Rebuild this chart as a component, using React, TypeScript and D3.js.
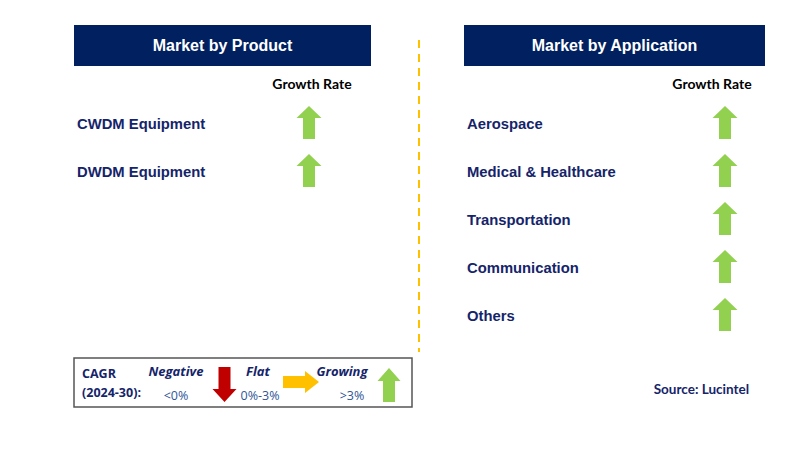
import React from "react";
import * as d3 from "d3";

const productCategories = ["CWDM Equipment", "DWDM Equipment"];
const productGrowth = ["up", "up"];
const applicationCategories = ["Aerospace", "Medical & Healthcare", "Transportation", "Communication", "Others"];
const applicationGrowth = ["up", "up", "up", "up", "up"];
const legendItems = [
  { label: "Negative", range: "<0%", dir: "down" },
  { label: "Flat", range: "0%-3%", dir: "right" },
  { label: "Growing", range: ">3%", dir: "up" },
];

const NAVY = "#002060";
const TEXT = "#15246a";
const GREEN = "#92D050";
const RED = "#C00000";
const ORANGE = "#FFC000";

function upArrow(cx: number, top: number, w: number, h: number, headH: number, shaftW: number) {
  const p = d3.path();
  p.moveTo(cx, top);
  p.lineTo(cx + w / 2, top + headH);
  p.lineTo(cx + shaftW / 2, top + headH);
  p.lineTo(cx + shaftW / 2, top + h);
  p.lineTo(cx - shaftW / 2, top + h);
  p.lineTo(cx - shaftW / 2, top + headH);
  p.lineTo(cx - w / 2, top + headH);
  p.closePath();
  return p.toString();
}
function downArrow(cx: number, top: number, w: number, h: number, headH: number, shaftW: number) {
  const p = d3.path();
  p.moveTo(cx, top + h);
  p.lineTo(cx + w / 2, top + h - headH);
  p.lineTo(cx + shaftW / 2, top + h - headH);
  p.lineTo(cx + shaftW / 2, top);
  p.lineTo(cx - shaftW / 2, top);
  p.lineTo(cx - shaftW / 2, top + h - headH);
  p.lineTo(cx - w / 2, top + h - headH);
  p.closePath();
  return p.toString();
}
function rightArrow(left: number, cy: number, w: number, h: number, headW: number, shaftH: number) {
  const p = d3.path();
  p.moveTo(left + w, cy);
  p.lineTo(left + w - headW, cy - h / 2);
  p.lineTo(left + w - headW, cy - shaftH / 2);
  p.lineTo(left, cy - shaftH / 2);
  p.lineTo(left, cy + shaftH / 2);
  p.lineTo(left + w - headW, cy + shaftH / 2);
  p.lineTo(left + w - headW, cy + h / 2);
  p.closePath();
  return p.toString();
}

function Panel({ x, w, title, cats, growth, labelX, arrowX }: any) {
  const y = d3.scalePoint<string>().domain(cats).range([124, 124 + 48 * (cats.length - 1)]);
  return (
    <g>
      <rect x={x} y={25} width={w} height={41} fill={NAVY} />
      <text x={x + w / 2} y={51} textAnchor="middle" fill="#fff" fontFamily="Liberation Sans, Arial, sans-serif" fontWeight="bold" fontSize={16}>
        {title}
      </text>
      <text x={labelX} y={89} textAnchor="middle" fill="#000" fontFamily="Lato, sans-serif" fontWeight="bold" fontSize={14}>
        Growth Rate
      </text>
      {cats.map((c: string, i: number) => (
        <g key={c}>
          <text x={x + 3} y={(y(c) as number) + 5} fill={TEXT} fontFamily="Liberation Sans, Arial, sans-serif" fontWeight="bold" fontSize={14.8}>
            {c}
          </text>
          {growth[i] === "up" && <path d={upArrow(arrowX, (y(c) as number) - 18, 25, 33, 12, 12)} fill={GREEN} />}
        </g>
      ))}
    </g>
  );
}

export default function App() {
  return (
    <svg width={796} height={456} style={{ position: "absolute", left: 0, top: 0, background: "#fff" }}>
      <rect width={796} height={456} fill="#fff" />
      <Panel x={74} w={297} title="Market by Product" cats={productCategories} growth={productGrowth} labelX={312} arrowX={309} />
      <Panel x={464} w={301} title="Market by Application" cats={applicationCategories} growth={applicationGrowth} labelX={712} arrowX={725} />
      <line x1={419} x2={419} y1={40} y2={352} stroke={ORANGE} strokeWidth={2} strokeDasharray="8,6" />
      <rect x={74} y={358} width={338} height={49} fill="#fff" stroke="#555" strokeWidth={1.5} />
      <text fontFamily="Open Sans, sans-serif" fontWeight="bold" fontSize={12.5} fill={TEXT}>
        <tspan x={82} y={378}>CAGR</tspan>
        <tspan x={82} y={397}>(2024-30):</tspan>
      </text>
      {legendItems.map((d, i) => {
        const cx = [176, 258, 342][i];
        const rx = [176, 260, 352][i];
        return (
          <g key={d.label}>
            <text x={cx} y={376} textAnchor="middle" fontFamily="Open Sans, sans-serif" fontWeight="bold" fontStyle="italic" fontSize={13} fill={TEXT}>
              {d.label}
            </text>
            <text x={rx} y={400} textAnchor="middle" fontFamily="Open Sans, sans-serif" fontSize={12.5} fill="#2F5597">
              {d.range}
            </text>
          </g>
        );
      })}
      <path d={downArrow(224.5, 367, 24, 35, 13, 12)} fill={RED} />
      <path d={rightArrow(283, 382, 36, 22, 14, 12)} fill={ORANGE} />
      <path d={upArrow(389, 368, 23, 34, 13, 12)} fill={GREEN} />
      <text x={749} y={394} textAnchor="end" fontFamily="Lato, sans-serif" fontWeight="bold" fontSize={13.5} fill={TEXT}>
        Source: Lucintel
      </text>
    </svg>
  );
}
